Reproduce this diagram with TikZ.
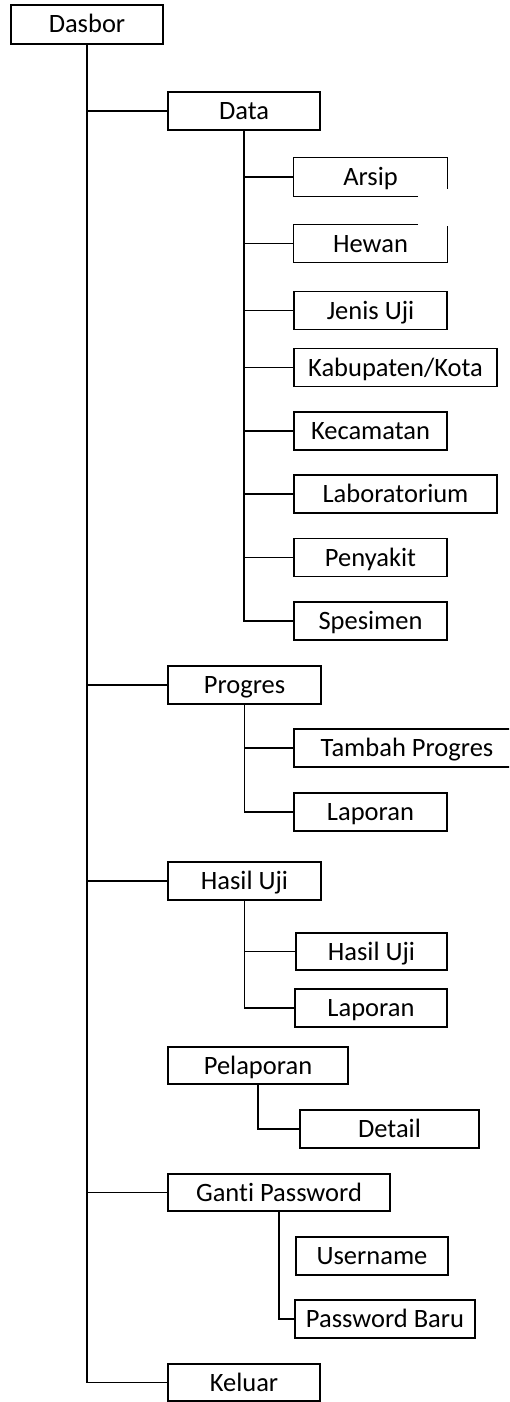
\documentclass[tikz,border=0pt]{standalone}
\usepackage{fontspec}
\setmainfont{Carlito}[Ligatures=NoCommon]
\begin{document}
\begin{tikzpicture}[x=1pt,y=-1pt,
  every node/.style={font=\fontsize{26.5}{30}\selectfont, inner sep=0pt, text height=19pt, text depth=2pt},
  box/.style={draw, line width=1.3pt, minimum height=38pt},
  openbox/.style={minimum height=38pt},
  conn/.style={line width=1.3pt}]
\clip (0,0) rectangle (509,1402);
\fill[white] (0,0) rectangle (509,1402);
% level 0
\node[box, minimum width=152pt, minimum height=39pt] (dasbor) at (87,24.5) {Dasbor};
% level 1
\node[box, minimum width=152pt] (data) at (244,111) {Data};
\node[box, minimum width=153pt] (progres) at (244.5,685) {Progres};
\node[box, minimum width=153pt] (hasil) at (244.5,881) {Hasil Uji};
\node[box, minimum width=180pt, minimum height=37pt] (pelaporan) at (258,1065.5) {Pelaporan};
\node[box, minimum width=222pt, minimum height=37pt] (ganti) at (279,1192.5) {Ganti Password};
\node[box, minimum width=152pt, minimum height=37pt] (keluar) at (244,1382.5) {Keluar};
% Data children
\node[openbox, minimum width=153pt] (arsip) at (370.5,177) {Arsip};
\node[openbox, minimum width=153pt] (hewan) at (370.5,243.5) {Hewan};
\node[box, minimum width=153pt] (jenis) at (370.5,310.5) {Jenis Uji};
\node[box, minimum width=203pt] (kab) at (395.5,367.5) {Kabupaten/Kota};
\node[box, minimum width=153pt] (kec) at (370.5,431) {Kecamatan};
\node[box, minimum width=203pt] (lab) at (395.5,494) {Laboratorium};
\node[box, minimum width=153pt] (penyakit) at (370.5,557.5) {Penyakit};
\node[box, minimum width=153pt] (spesimen) at (370.5,621) {Spesimen};
% Progres children
\node[box, minimum width=226pt] (tambah) at (407,748) {Tambah Progres};
\node[box, minimum width=153pt] (laporanA) at (370.5,812) {Laporan};
% Hasil Uji children
\node[box, minimum width=151pt, minimum height=37pt] (hasilB) at (371.5,951.5) {Hasil Uji};
\node[box, minimum width=152pt] (laporanB) at (371,1008) {Laporan};
% Pelaporan child
\node[box, minimum width=179pt] (detail) at (389.5,1129) {Detail};
% Ganti Password children
\node[box, minimum width=152pt] (username) at (372,1256) {Username};
\node[box, minimum width=180pt] (passbaru) at (385,1319) {Password Baru};
% partially drawn borders of Arsip and Hewan
\draw[conn] ([xshift=-29pt]arsip.south east) -- (arsip.south west) -- (arsip.north west) -- (arsip.north east) -- ([yshift=-31pt]arsip.north east);
\draw[conn] ([xshift=-29pt]hewan.north east) -- (hewan.north west) -- (hewan.south west) -- (hewan.south east) -- ([yshift=-2pt]hewan.north east);
% main trunk
\draw[conn] (dasbor.south) |- (keluar.west);
\draw[conn] (dasbor.south) |- (data.west);
\draw[conn] (dasbor.south) |- (progres.west);
\draw[conn] (dasbor.south) |- (hasil.west);
\draw[conn] (dasbor.south) |- (ganti.west);
% Data
\foreach \c in {arsip,hewan,jenis,kab,kec,lab,penyakit,spesimen}
  \draw[conn] (data.south) |- (\c.west);
% Progres
\draw[conn] (progres.south) |- (tambah.west);
\draw[conn] (progres.south) |- (laporanA.west);
% Hasil Uji
\draw[conn] (hasil.south) |- (hasilB.west);
\draw[conn] (hasil.south) |- (laporanB.west);
% Pelaporan
\draw[conn] (pelaporan.south) |- (detail.west);
% Ganti Password
\draw[conn] (ganti.south) |- (passbaru.west);
\end{tikzpicture}
\end{document}
